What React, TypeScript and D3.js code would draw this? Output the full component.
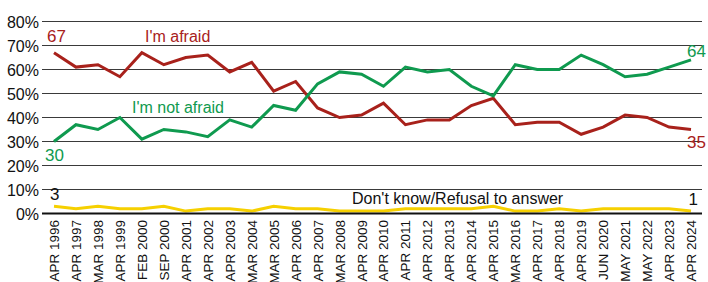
import React, { useRef, useEffect } from "react";
import * as d3 from "d3";

const categories = [
  "APR 1996", "APR 1997", "MAR 1998", "APR 1999", "FEB 2000", "SEP 2000",
  "APR 2001", "APR 2002", "APR 2003", "MAR 2004", "MAR 2005", "APR 2006",
  "APR 2007", "MAR 2008", "APR 2009", "APR 2010", "APR 2011", "APR 2012",
  "APR 2013", "APR 2014", "APR 2015", "MAR 2016", "APR 2017", "APR 2018",
  "APR 2019", "JUN 2020", "MAY 2021", "MAY 2022", "APR 2023", "APR 2024",
];

const afraid = [
  67, 61, 62, 57, 67, 62, 65, 66, 59, 63, 51, 55, 44, 40, 41,
  46, 37, 39, 39, 45, 48, 37, 38, 38, 33, 36, 41, 40, 36, 35,
];

const notAfraid = [
  30, 37, 35, 40, 31, 35, 34, 32, 39, 36, 45, 43, 54, 59, 58,
  53, 61, 59, 60, 53, 49, 62, 60, 60, 66, 62, 57, 58, 61, 64,
];

const dontKnow = [
  3, 2, 3, 2, 2, 3, 1, 2, 2, 1, 3, 2, 2, 1, 1,
  1, 2, 2, 2, 2, 3, 1, 1, 2, 1, 2, 2, 2, 2, 1,
];

const yTicks = [0, 10, 20, 30, 40, 50, 60, 70, 80];

const RED = "#a8211b";
const GREEN = "#0f9a4f";
const YELLOW = "#f6d000";
const FONT = "'Liberation Sans', Arial, sans-serif";

export default function App() {
  const svgRef = useRef<SVGSVGElement>(null);

  useEffect(() => {
    const width = 708;
    const height = 282;
    const svg = d3.select(svgRef.current);
    svg.selectAll("*").remove();
    svg.attr("width", width).attr("height", height).style("font-family", FONT);

    const x = d3.scalePoint<string>().domain(categories).range([54, 691]);
    const y = d3.scaleLinear().domain([0, 80]).range([213.5, 21.5]);
    const gridLeft = 42;
    const gridRight = 702;

    // grid
    svg
      .append("g")
      .selectAll("line")
      .data(yTicks.filter((t) => t > 0))
      .join("line")
      .attr("x1", gridLeft)
      .attr("x2", gridRight)
      .attr("y1", (d) => y(d))
      .attr("y2", (d) => y(d))
      .attr("stroke", "#3a3a3a")
      .attr("stroke-width", 1);

    // y labels
    svg
      .append("g")
      .selectAll("text")
      .data(yTicks)
      .join("text")
      .attr("x", 39)
      .attr("y", (d) => y(d) + 6)
      .attr("text-anchor", "end")
      .attr("font-size", 16)
      .attr("fill", "#111")
      .text((d) => `${d}%`);

    // x labels
    svg
      .append("g")
      .selectAll("text")
      .data(categories)
      .join("text")
      .attr("transform", (d) => `translate(${x(d)! + 5},220) rotate(-90)`)
      .attr("text-anchor", "end")
      .attr("font-size", 13.5)
      .attr("fill", "#111")
      .text((d) => d);

    const line = d3
      .line<number>()
      .x((_, i) => x(categories[i])!)
      .y((d) => y(d));

    const series = [
      { values: dontKnow, color: YELLOW },
      { values: afraid, color: RED },
      { values: notAfraid, color: GREEN },
    ];
    series.forEach((s) => {
      svg
        .append("path")
        .datum(s.values)
        .attr("d", line)
        .attr("fill", "none")
        .attr("stroke", s.color)
        .attr("stroke-width", 3)
        .attr("stroke-linejoin", "miter");
    });

    // baseline
    svg
      .append("line")
      .attr("x1", gridLeft)
      .attr("x2", gridRight)
      .attr("y1", y(0))
      .attr("y2", y(0))
      .attr("stroke", "#111")
      .attr("stroke-width", 2);

    const last = categories.length - 1;
    const labels = [
      { text: String(afraid[0]), x: x(categories[0])! - 7, y: 42, color: RED, size: 17, anchor: "start" },
      { text: "I'm afraid", x: 145, y: 42, color: RED, size: 16, anchor: "start" },
      { text: "I'm not afraid", x: 132, y: 113, color: GREEN, size: 16, anchor: "start" },
      { text: String(notAfraid[0]), x: x(categories[0])! - 9, y: 161, color: GREEN, size: 17, anchor: "start" },
      { text: String(dontKnow[0]), x: x(categories[0])! - 4, y: 200, color: "#111", size: 17, anchor: "start" },
      { text: "Don't know/Refusal to answer", x: 352, y: 204, color: "#111", size: 16, anchor: "start" },
      { text: String(notAfraid[last]), x: 706, y: 57, color: GREEN, size: 17, anchor: "end" },
      { text: String(afraid[last]), x: 706, y: 148, color: RED, size: 17, anchor: "end" },
      { text: String(dontKnow[last]), x: 698, y: 205, color: "#111", size: 17, anchor: "end" },
    ];
    svg
      .append("g")
      .selectAll("text")
      .data(labels)
      .join("text")
      .attr("x", (d) => d.x)
      .attr("y", (d) => d.y)
      .attr("text-anchor", (d) => d.anchor)
      .attr("font-size", (d) => d.size)
      .attr("fill", (d) => d.color)
      .text((d) => d.text);
  }, []);

  return (
    <div style={{ position: "absolute", left: 0, top: 0, background: "#fff" }}>
      <svg ref={svgRef} style={{ display: "block" }}></svg>
    </div>
  );
}
